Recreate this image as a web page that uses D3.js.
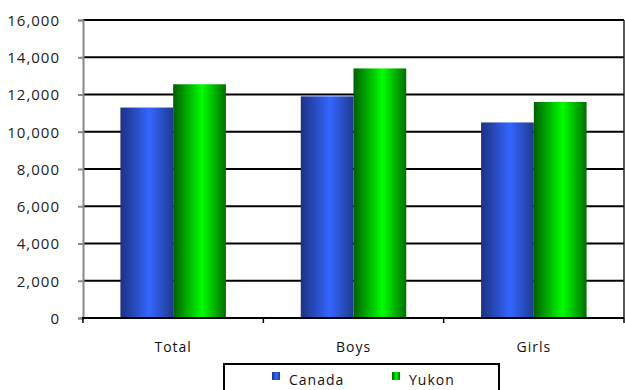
<!DOCTYPE html>
<html><head><meta charset="utf-8">
<script src="https://cdn.jsdelivr.net/npm/d3@7"></script>
<style>body{margin:0;background:#fff}svg{display:block}text{font-family:"Open Sans","Noto Sans",sans-serif;}</style>
</head><body>
<svg id="c" width="625" height="390"></svg>
<script>
const categories = ["Total", "Boys", "Girls"];
const seriesNames = ["Canada", "Yukon"];
const canada = [11300, 11900, 10500];
const yukon = [12550, 13400, 11600];
const yTicks = [0, 2000, 4000, 6000, 8000, 10000, 12000, 14000, 16000];

const svg = d3.select("#c");
const L = 83, R = 624, T = 20, B = 318;
const x = d3.scaleBand().domain(categories).range([L, R]).paddingInner(0.415).paddingOuter(0.2075);
const xs = d3.scaleBand().domain(seriesNames).range([0, x.bandwidth()]);
const y = d3.scaleLinear().domain([0, 16000]).range([B, T]);

const defs = svg.append("defs");
function grad(id, edgeL, mid, edgeR){
  const g = defs.append("linearGradient").attr("id", id).attr("x1","0").attr("x2","1").attr("y1","0").attr("y2","0");
  g.append("stop").attr("offset","0%").attr("stop-color", edgeL);
  g.append("stop").attr("offset","55%").attr("stop-color", mid);
  g.append("stop").attr("offset","100%").attr("stop-color", edgeR);
}
grad("gBlue", "#1c3282", "#3366ff", "#1f3a8f");
grad("gGreen", "#006000", "#00ff00", "#006e00");
const fills = {Canada: "url(#gBlue)", Yukon: "url(#gGreen)"};

// gridlines
svg.append("g").selectAll("line").data(yTicks.filter(d => d > 0)).join("line")
  .attr("x1", L).attr("x2", R).attr("y1", d => y(d)).attr("y2", d => y(d))
  .attr("stroke", "#000").attr("stroke-width", 2);
// right border
svg.append("line").attr("x1", R).attr("x2", R).attr("y1", T).attr("y2", B).attr("stroke", "#222").attr("stroke-width", 1.5);

// bars
const data = categories.map((c, i) => ({c, vals: [{s: "Canada", v: canada[i]}, {s: "Yukon", v: yukon[i]}]}));
const gCat = svg.append("g").selectAll("g").data(data).join("g").attr("transform", d => `translate(${x(d.c)},0)`);
gCat.selectAll("rect").data(d => d.vals).join("rect")
  .attr("x", d => xs(d.s)).attr("width", xs.bandwidth())
  .attr("y", d => y(d.v)).attr("height", d => B - y(d.v))
  .attr("fill", d => fills[d.s]);

// y axis
const yAxis = svg.append("g").attr("transform", `translate(${L},0)`)
  .call(d3.axisLeft(y).tickValues(yTicks).tickFormat(d3.format(",")).tickSize(5).tickPadding(18));
yAxis.select(".domain").attr("stroke", "#888").attr("stroke-width", 2);
yAxis.selectAll(".tick line").attr("stroke", "#888").attr("stroke-width", 2);
yAxis.selectAll("text").attr("font-family", "'Open Sans','Noto Sans',sans-serif").attr("font-size", 15)
  .attr("letter-spacing", 1).attr("fill", "#222").attr("dy", "0.35em");

// x axis baseline
svg.append("line").attr("x1", L - 1).attr("x2", R).attr("y1", B).attr("y2", B).attr("stroke", "#000").attr("stroke-width", 2);
const xTickPos = [L, ...categories.map(c => x(c) + x.bandwidth() / 2 + x.step() / 2)];
svg.append("g").selectAll("line").data(xTickPos).join("line")
  .attr("x1", d => d).attr("x2", d => d).attr("y1", B).attr("y2", B + 5)
  .attr("stroke", "#000").attr("stroke-width", 1.5);
svg.append("g").selectAll("text").data(categories).join("text")
  .attr("x", d => x(d) + x.bandwidth() / 2).attr("y", 352)
  .attr("text-anchor", "middle").attr("font-size", 14).attr("letter-spacing", 1).attr("fill", "#111").text(d => d);

// legend
svg.append("rect").attr("x", 224).attr("y", 364).attr("width", 275).attr("height", 34)
  .attr("fill", "#fff").attr("stroke", "#000").attr("stroke-width", 2);
const legX = [272, 392];
const lg = svg.append("g").selectAll("g").data(seriesNames).join("g")
  .attr("transform", (d, i) => `translate(${legX[i]},372)`);
lg.append("rect").attr("width", 8).attr("height", 8).attr("fill", d => fills[d]);
lg.append("text").attr("x", 17).attr("y", 9).attr("dy", "0.3em").attr("font-size", 14).attr("letter-spacing", 1).attr("fill", "#111").text(d => d);
</script>
</body></html>
